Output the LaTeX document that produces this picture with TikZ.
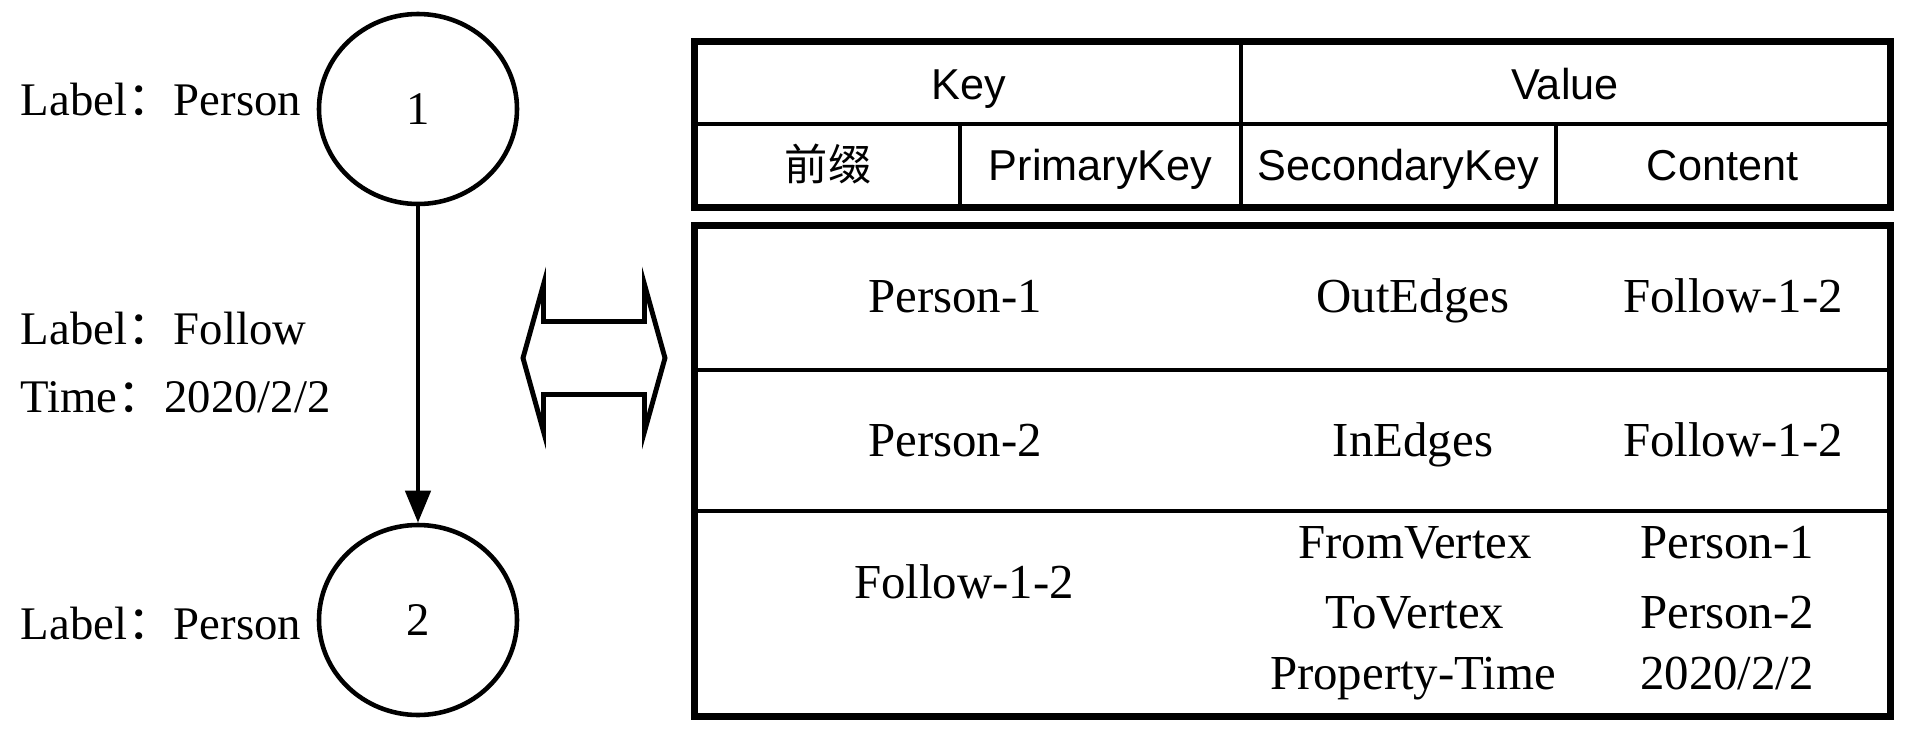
\documentclass[tikz,border=0pt]{standalone}
\usepackage{fontspec}
\setmainfont{Liberation Serif}
\newfontfamily\hdfont{Liberation Sans}
\newfontfamily\cjk{Noto Sans CJK SC}
\usetikzlibrary{shapes.geometric, arrows.meta, positioning, calc}
\tikzset{
  vertex/.style={ellipse,draw,line width=1.3pt,minimum width=1.98cm,minimum height=1.90cm,inner sep=0pt,font=\fontsize{13.3}{16}\selectfont},
  prop/.style={anchor=base west,inner sep=0pt,font=\fontsize{13.3}{16}\selectfont},
  edge/.style={line width=1.3pt,-{Triangle[length=0.32cm,width=0.25cm]}},
  hcell/.style={rectangle,draw,line width=1.2pt,inner sep=0pt,text height=0.31cm,text depth=0pt,font=\hdfont\fontsize{12.3}{15}\selectfont},
  kvrow/.style={rectangle,draw,line width=1.3pt,minimum width=11.93cm,inner sep=0pt},
  entry/.style={anchor=base,inner sep=0pt,font=\fontsize{13.9}{17}\selectfont},
  frame/.style={line width=1.6pt},
  dblarrow/.style={line width=1.4pt,line join=miter},
}

\begin{document}
\begin{tikzpicture}
	\useasboundingbox (0,0) rectangle (19.16,7.38);
	% graph
	\node[vertex] (v1) at (4.18,6.29) {1};
	\node[vertex] (v2) at (4.18,1.18) {2};
	\draw[edge] (v1) -- (v2);
	\node[prop] (l1) at (0.20,6.23) {Label{\cjk ：}Person};
	\node[prop] (l2) at (0.20,3.94) {Label{\cjk ：}Follow};
	\node[prop] (l3) at (0.20,3.26) {Time{\cjk ：}2020/2/2};
	\node[prop] (l4) at (0.20,0.99) {Label{\cjk ：}Person};
	% mapping
	\coordinate (swap) at (5.94,3.80);
	\draw[dblarrow,shift={(swap)}] (-0.71,0) -- (-0.505,0.735) -- (-0.505,0.365) -- (0.505,0.365) -- (0.505,0.735) -- (0.71,0)
	  -- (0.505,-0.735) -- (0.505,-0.365) -- (-0.505,-0.365) -- (-0.505,-0.735) -- cycle;
	% header
	\node[hcell,minimum width=5.45cm,minimum height=0.81cm] (key) at (9.685,6.545) {Key};
	\node[hcell,minimum width=6.48cm,minimum height=0.81cm] (value) at (15.65,6.545) {Value};
	\node[hcell,minimum width=2.64cm,minimum height=0.82cm] (prefix) at (8.28,5.73) {{\cjk 前缀}};
	\node[hcell,minimum width=2.81cm,minimum height=0.82cm] (pkey) at (11.005,5.73) {PrimaryKey};
	\node[hcell,minimum width=3.15cm,minimum height=0.82cm] (skey) at (13.985,5.73) {SecondaryKey};
	\node[hcell,minimum width=3.33cm,minimum height=0.82cm] (cont) at (17.225,5.73) {Content};
	\draw[frame] (key.north west) rectangle (cont.south east);
	% rows
	\node[kvrow,minimum height=1.43cm] (r1) at (12.925,4.395) {};
	\node[kvrow,minimum height=1.41cm] (r2) at (12.925,2.975) {};
	\node[kvrow,minimum height=2.04cm] (r3) at (12.925,1.25) {};
	\draw[frame] (r1.north west) rectangle (r3.south east);
	\node[entry] (k1) at (9.55,4.26) {Person-1};
	\node[entry] (s1) at (14.13,4.26) {OutEdges};
	\node[entry] (c1) at (17.33,4.26) {Follow-1-2};
	\node[entry] (k2) at (9.55,2.82) {Person-2};
	\node[entry] (s2) at (14.13,2.82) {InEdges};
	\node[entry] (c2) at (17.33,2.82) {Follow-1-2};
	\node[entry] (k3) at (9.64,1.40) {Follow-1-2};
	\node[entry] (s3a) at (14.15,1.80) {FromVertex};
	\node[entry] (s3b) at (14.15,1.10) {ToVertex};
	\node[entry] (s3c) at (14.13,0.49) {Property-Time};
	\node[entry] (c3a) at (17.27,1.80) {Person-1};
	\node[entry] (c3b) at (17.27,1.10) {Person-2};
	\node[entry] (c3c) at (17.27,0.49) {2020/2/2};
\end{tikzpicture}
\end{document}
